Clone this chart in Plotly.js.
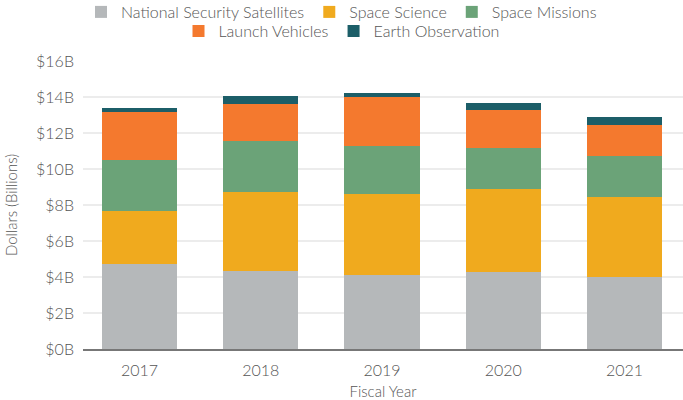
<!DOCTYPE html>
<html>
<head>
<meta charset="utf-8">
<script src="https://cdn.plot.ly/plotly-3.0.1.min.js"></script>
<style>
  html, body { margin: 0; padding: 0; background: #fff; }
  #chart { width: 683px; height: 400px; }
</style>
</head>
<body>
<div id="chart"></div>
<script>
const years = ['2017', '2018', '2019', '2020', '2021'];
const nationalSecurity = [4.71, 4.33, 4.11, 4.26, 4.00];
const spaceScience = [2.94, 4.38, 4.48, 4.61, 4.44];
const spaceMissions = [2.83, 2.85, 2.67, 2.28, 2.26];
const launchVehicles = [2.67, 2.03, 2.72, 2.11, 1.73];
const earthObservation = [0.22, 0.45, 0.23, 0.39, 0.44];
const yTickVals = [0, 2, 4, 6, 8, 10, 12, 14, 16];
const yTickText = ['$0B', '$2B', '$4B', '$6B', '$8B', '$10B', '$12B', '$14B', '$16B'];

const series = [
  { name: 'National Security Satellites', y: nationalSecurity, color: '#B5B8BA', legend: 'legend' },
  { name: 'Space Science', y: spaceScience, color: '#F0AA1E', legend: 'legend' },
  { name: 'Space Missions', y: spaceMissions, color: '#6BA378', legend: 'legend' },
  { name: 'Launch Vehicles', y: launchVehicles, color: '#F4792E', legend: 'legend2' },
  { name: 'Earth Observation', y: earthObservation, color: '#1C5E68', legend: 'legend2' }
];

const traces = series.map(s => ({
  type: 'bar',
  name: s.name,
  x: years,
  y: s.y,
  marker: { color: s.color, line: { width: 0 } },
  legend: s.legend,
  hoverinfo: 'x+y+name'
}));

const FONT = 'Lato, sans-serif';
const legendFont = { family: FONT, size: 16, color: '#555', weight: 300 };

const layout = {
  width: 683,
  height: 400,
  margin: { l: 83, r: 0, t: 61, b: 51 },
  paper_bgcolor: '#fff',
  plot_bgcolor: '#fff',
  barmode: 'stack',
  bargap: 0.38,
  font: { family: FONT, size: 15, color: '#555', weight: 300 },
  xaxis: {
    type: 'category',
    range: [-0.466, 4.482],
    showline: true,
    linecolor: '#777',
    linewidth: 2,
    showgrid: false,
    ticks: '',
    ticklabelstandoff: 6,
    tickfont: { family: FONT, size: 16, color: '#555', weight: 300 },
    title: { text: 'Fiscal Year', font: { family: FONT, size: 15, color: '#555', weight: 300 }, standoff: 12 }
  },
  yaxis: {
    range: [0, 16],
    tickvals: yTickVals,
    ticktext: yTickText,
    showgrid: true,
    gridcolor: '#ECECEC',
    gridwidth: 2,
    zeroline: false,
    showline: false,
    ticks: '',
    ticklabelstandoff: 8,
    tickfont: { family: FONT, size: 16, color: '#555', weight: 300 },
    title: { text: 'Dollars (Billions)', font: { family: FONT, size: 15, color: '#555', weight: 300 }, standoff: 14 }
  },
  legend: {
    orientation: 'h',
    x: 0.5, xanchor: 'center', xref: 'container',
    y: 0.97, yanchor: 'middle', yref: 'container',
    bgcolor: 'rgba(0,0,0,0)',
    font: legendFont,
    traceorder: 'normal',
    itemclick: false
  },
  legend2: {
    orientation: 'h',
    x: 0.5, xanchor: 'center', xref: 'container',
    y: 0.9225, yanchor: 'middle', yref: 'container',
    bgcolor: 'rgba(0,0,0,0)',
    font: legendFont,
    traceorder: 'normal',
    itemclick: false
  },
  showlegend: true
};

Plotly.newPlot('chart', traces, layout, { displayModeBar: false, staticPlot: true });
</script>
</body>
</html>
